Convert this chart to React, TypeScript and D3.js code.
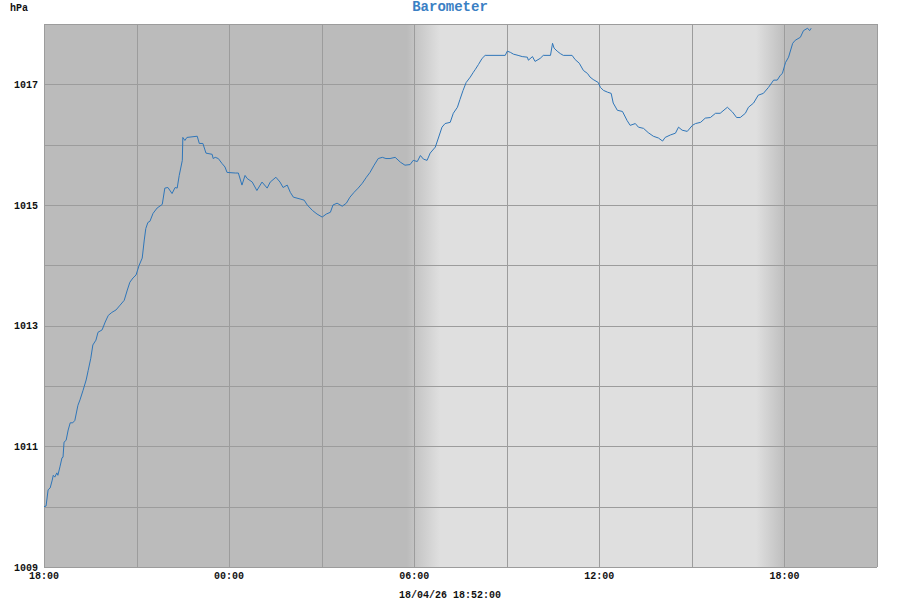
import React from "react";
import * as d3 from "d3";

// minutes after 2026-04-17 18:00
const minutes = [0,4,8,12,16,18,21,25,27,31,35,37,39,43,47,51,56,60,66,70,76,82,86,91,95,101,105,113,119,125,132,140,148,156,162,167,173,179,185,191,195,198,202,206,212,220,230,235,241,249,255,259,263,269,270,274,278,298,302,309,315,327,329,333,339,346,352,356,372,378,385,391,395,405,414,424,434,440,451,459,465,473,479,485,498,506,512,522,531,541,549,557,562,570,580,588,595,603,611,619,627,634,642,650,658,665,673,683,693,702,712,718,726,732,738,745,751,761,767,774,780,790,796,804,809,815,821,829,835,839,845,852,858,897,901,907,913,922,930,940,942,950,955,965,971,985,989,992,998,1004,1010,1027,1033,1041,1049,1057,1062,1068,1078,1082,1088,1096,1103,1107,1115,1125,1134,1140,1150,1156,1166,1175,1185,1195,1203,1208,1218,1228,1234,1241,1251,1261,1267,1277,1286,1296,1306,1315,1329,1339,1347,1354,1364,1370,1380,1389,1399,1409,1419,1426,1432,1436,1442,1448,1456,1461,1471,1477,1485,1489,1492];

const pressure = [1010.00,1010.01,1010.28,1010.31,1010.44,1010.52,1010.49,1010.56,1010.52,1010.66,1010.81,1010.82,1011.07,1011.10,1011.27,1011.39,1011.39,1011.43,1011.68,1011.77,1011.93,1012.10,1012.26,1012.46,1012.68,1012.76,1012.89,1012.93,1013.06,1013.17,1013.22,1013.26,1013.34,1013.42,1013.59,1013.72,1013.79,1013.84,1014.00,1014.12,1014.42,1014.61,1014.71,1014.73,1014.86,1014.95,1015.01,1015.28,1015.29,1015.19,1015.29,1015.28,1015.49,1015.74,1016.12,1016.07,1016.12,1016.14,1016.02,1016.02,1015.86,1015.84,1015.77,1015.79,1015.77,1015.69,1015.63,1015.54,1015.53,1015.53,1015.33,1015.49,1015.44,1015.38,1015.24,1015.38,1015.28,1015.38,1015.46,1015.38,1015.29,1015.33,1015.21,1015.13,1015.10,1015.08,1015.00,1014.91,1014.85,1014.80,1014.85,1014.88,1015.00,1015.03,1014.98,1015.03,1015.13,1015.21,1015.28,1015.36,1015.46,1015.54,1015.66,1015.77,1015.79,1015.77,1015.77,1015.79,1015.71,1015.66,1015.67,1015.74,1015.72,1015.82,1015.76,1015.74,1015.86,1015.96,1016.11,1016.29,1016.35,1016.37,1016.52,1016.62,1016.75,1016.90,1017.03,1017.12,1017.20,1017.25,1017.33,1017.43,1017.48,1017.48,1017.55,1017.53,1017.50,1017.48,1017.46,1017.45,1017.40,1017.46,1017.38,1017.43,1017.48,1017.48,1017.68,1017.60,1017.55,1017.51,1017.48,1017.48,1017.41,1017.35,1017.23,1017.18,1017.12,1017.08,1017.03,1016.95,1016.90,1016.87,1016.85,1016.69,1016.57,1016.55,1016.40,1016.32,1016.35,1016.29,1016.27,1016.20,1016.14,1016.11,1016.06,1016.12,1016.16,1016.19,1016.29,1016.24,1016.22,1016.32,1016.35,1016.37,1016.44,1016.45,1016.52,1016.52,1016.62,1016.54,1016.45,1016.45,1016.52,1016.62,1016.69,1016.82,1016.85,1016.95,1017.07,1017.07,1017.15,1017.18,1017.36,1017.45,1017.68,1017.73,1017.78,1017.89,1017.93,1017.89,1017.93];

const yTickValues = [1009, 1011, 1013, 1015, 1017];
const xTickLabels = ["18:00", "00:00", "06:00", "12:00", "18:00"];
// twilight transitions, minutes after start: [dawn start, dawn end, dusk start, dusk end]
const twilight = [705, 770, 1385, 1445];
const title = "Barometer";
const unit = "hPa";
const stamp = "18/04/26 18:52:00";

const start = new Date(2026, 3, 17, 18, 0);
const end = new Date(2026, 3, 18, 21, 0);
const toDate = (m: number) => new Date(start.getTime() + m * 60000);

const W = 900, H = 600;
const L = 44, R = 877, T = 24, B = 567;
const DARK = "#bbbbbb", LIGHT = "#dfdfdf";
const FONT = "'Liberation Mono', 'DejaVu Sans Mono', monospace";

export default function App() {
  const x = d3.scaleTime().domain([start, end]).range([L, R]);
  const y = d3.scaleLinear().domain([1009, 1018]).range([B, T]);
  const data = minutes.map((m, i) => ({ t: toDate(m), v: pressure[i] }));
  const line = d3.line<{ t: Date; v: number }>().x(d => x(d.t)).y(d => y(d.v));

  const xGrid = d3.timeHour.every(3)!.range(start, d3.timeMinute.offset(end, 1));
  const yGrid = d3.range(1009, 1019, 1);
  const xLabelTicks = d3.timeHour.every(6)!.range(start, d3.timeMinute.offset(end, 1));
  const tw = twilight.map(m => x(toDate(m)));
  const pct = (px: number) => `${((px - L) / (R - L)) * 100}%`;

  return (
    <svg width={W} height={H} style={{ position: "absolute", left: 0, top: 0, background: "#fff" }}>
      <defs>
        <linearGradient id="sky" x1="0" x2="1" y1="0" y2="0">
          <stop offset="0%" stopColor={DARK} />
          <stop offset={pct(tw[0])} stopColor={DARK} />
          <stop offset={pct(tw[1])} stopColor={LIGHT} />
          <stop offset={pct(tw[2])} stopColor={LIGHT} />
          <stop offset={pct(tw[3])} stopColor={DARK} />
          <stop offset="100%" stopColor={DARK} />
        </linearGradient>
      </defs>
      <text x={W / 2} y={11} textAnchor="middle" fontFamily={FONT} fontWeight="bold" fontSize={14} fill="#3a80c4">{title}</text>
      <text x={10} y={11} fontFamily={FONT} fontWeight="bold" fontSize={10} fill="#111">{unit}</text>
      <rect x={L} y={T} width={R - L} height={B - T} fill="url(#sky)" />
      {yGrid.map(v => (
        <line key={"h" + v} x1={L} x2={R} y1={Math.round(y(v)) + 0.5} y2={Math.round(y(v)) + 0.5} stroke="#9c9c9c" strokeWidth={1} />
      ))}
      {xGrid.map(d => (
        <line key={"v" + d.getTime()} x1={Math.round(x(d)) + 0.5} x2={Math.round(x(d)) + 0.5} y1={T} y2={B} stroke="#9c9c9c" strokeWidth={1} />
      ))}
      <path d={line(data) || ""} fill="none" stroke="#2f76b9" strokeWidth={1} strokeLinejoin="round" />
      {yTickValues.map(v => (
        <text key={"yl" + v} x={38} y={y(v)} dy="0.35em" textAnchor="end" fontFamily={FONT} fontWeight="bold" fontSize={10} fill="#111">{v}</text>
      ))}
      {xLabelTicks.slice(0, xTickLabels.length).map((d, i) => (
        <text key={"xl" + i} x={x(d)} y={579} textAnchor="middle" fontFamily={FONT} fontWeight="bold" fontSize={10} fill="#111">{xTickLabels[i]}</text>
      ))}
      <text x={W / 2} y={598} textAnchor="middle" fontFamily={FONT} fontWeight="bold" fontSize={10} fill="#111">{stamp}</text>
    </svg>
  );
}
